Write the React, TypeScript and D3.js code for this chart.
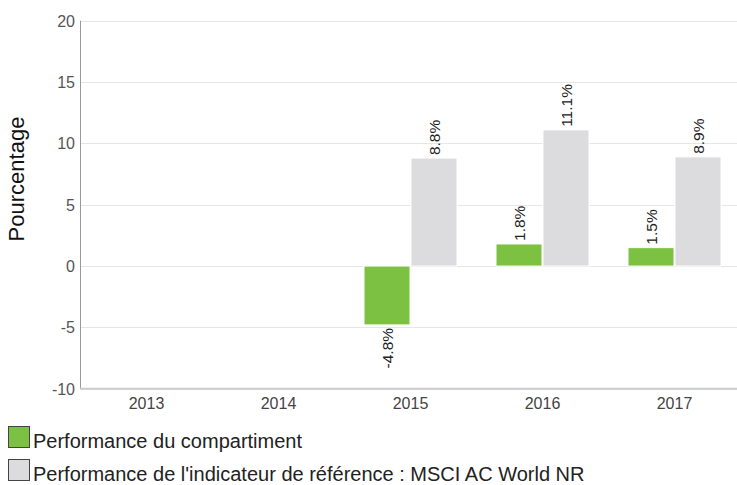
import { useRef, useEffect } from 'react';
import * as d3 from 'd3';

const years = ['2013', '2014', '2015', '2016', '2017'];
const fundValues: (number | null)[] = [null, null, -4.8, 1.8, 1.5];
const benchValues: (number | null)[] = [null, null, 8.8, 11.1, 8.9];
const yTicks = [-10, -5, 0, 5, 10, 15, 20];
const seriesNames = ['Performance du compartiment', "Performance de l'indicateur de référence : MSCI AC World NR"];
const seriesColors = ['#7dc142', '#dcdcde'];

export default function App() {
    const svgRef = useRef<SVGSVGElement>(null);

    useEffect(() => {
        if (!svgRef.current) return;
        const width = 737;
        const height = 485;
        const font = '"Liberation Sans", Arial, sans-serif';

        const svg = d3.select(svgRef.current);
        svg.selectAll('*').remove();
        svg.attr('width', width).attr('height', height);

        const x = d3.scaleBand().domain(years).range([80.5, 740.5]).paddingInner(0).paddingOuter(0);
        const y = d3.scaleLinear().domain([-10, 20]).range([388.7, 20.7]);

        // Gridlines
        svg.append('g')
            .selectAll('line')
            .data(yTicks)
            .enter()
            .append('line')
            .attr('x1', 80.5)
            .attr('x2', width)
            .attr('y1', d => Math.round(y(d)) + 0.5)
            .attr('y2', d => Math.round(y(d)) + 0.5)
            .attr('stroke', '#e6e6e6');

        // Y tick labels
        svg.append('g')
            .selectAll('text')
            .data(yTicks)
            .enter()
            .append('text')
            .attr('x', 75)
            .attr('y', d => y(d) + 6)
            .attr('text-anchor', 'end')
            .attr('font-family', font)
            .attr('font-size', '16px')
            .attr('fill', '#555')
            .text(d => d);

        // Axis title
        svg.append('text')
            .attr('transform', `translate(24,179) rotate(-90)`)
            .attr('text-anchor', 'middle')
            .attr('font-family', font)
            .attr('font-size', '22px')
            .attr('fill', '#111')
            .text('Pourcentage');

        // two bars per year: 46px wide, 1px apart
        const inner = d3.scaleBand().domain(['0', '1']).range([0, x.bandwidth()]).paddingInner(1 / 47).paddingOuter(0.415);

        const series = [fundValues, benchValues];
        series.forEach((vals, si) => {
            const g = svg.append('g');
            const data = years.map((yr, i) => ({ yr, v: vals[i] })).filter(d => d.v !== null) as { yr: string; v: number }[];
            g.selectAll('rect')
                .data(data)
                .enter()
                .append('rect')
                .attr('x', d => (x(d.yr) ?? 0) + (inner(String(si)) ?? 0))
                .attr('y', d => y(Math.max(0, d.v)))
                .attr('width', inner.bandwidth())
                .attr('height', d => Math.abs(y(d.v) - y(0)))
                .attr('fill', seriesColors[si])
                .attr('stroke', '#fff')
                .attr('stroke-width', 1);

            g.selectAll('text')
                .data(data)
                .enter()
                .append('text')
                .attr('transform', d => {
                    const cx = (x(d.yr) ?? 0) + (inner(String(si)) ?? 0) + inner.bandwidth() / 2 + 6;
                    const cy = d.v >= 0 ? y(d.v) - 3 : y(d.v) + 3;
                    return `translate(${cx},${cy}) rotate(-90)`;
                })
                .attr('text-anchor', d => (d.v >= 0 ? 'start' : 'end'))
                .attr('font-family', font)
                .attr('font-size', '15.5px')
                .attr('fill', '#222')
                .text(d => `${d.v.toFixed(1)}%`);
        });

        // Axes lines
        svg.append('line')
            .attr('x1', 80.5).attr('x2', 80.5)
            .attr('y1', y(20)).attr('y2', y(-10))
            .attr('stroke', '#999');
        svg.append('line')
            .attr('x1', 80).attr('x2', width)
            .attr('y1', y(-10)).attr('y2', y(-10))
            .attr('stroke', '#ccc')
            .attr('stroke-width', 2);

        // X labels
        svg.append('g')
            .selectAll('text')
            .data(years)
            .enter()
            .append('text')
            .attr('x', d => (x(d) ?? 0) + x.bandwidth() / 2)
            .attr('y', 409)
            .attr('text-anchor', 'middle')
            .attr('font-family', font)
            .attr('font-size', '16px')
            .attr('fill', '#444')
            .text(d => d);

        // Legend
        const legend = svg.append('g');
        seriesNames.forEach((name, i) => {
            const ly = 426 + i * 33;
            legend.append('rect')
                .attr('x', 8.5).attr('y', ly + 0.5)
                .attr('width', 21).attr('height', 21)
                .attr('fill', seriesColors[i])
                .attr('stroke', '#444')
                .attr('stroke-width', 1);
            legend.append('text')
                .attr('x', 33)
                .attr('y', ly + 22)
                .attr('font-family', font)
                .attr('font-size', '20px')
                .attr('fill', '#222')
                .text(name);
        });
    }, []);

    return (
        <div style={{ position: 'absolute', left: 0, top: 0 }}>
            <svg ref={svgRef} style={{ display: 'block' }} />
        </div>
    );
}
